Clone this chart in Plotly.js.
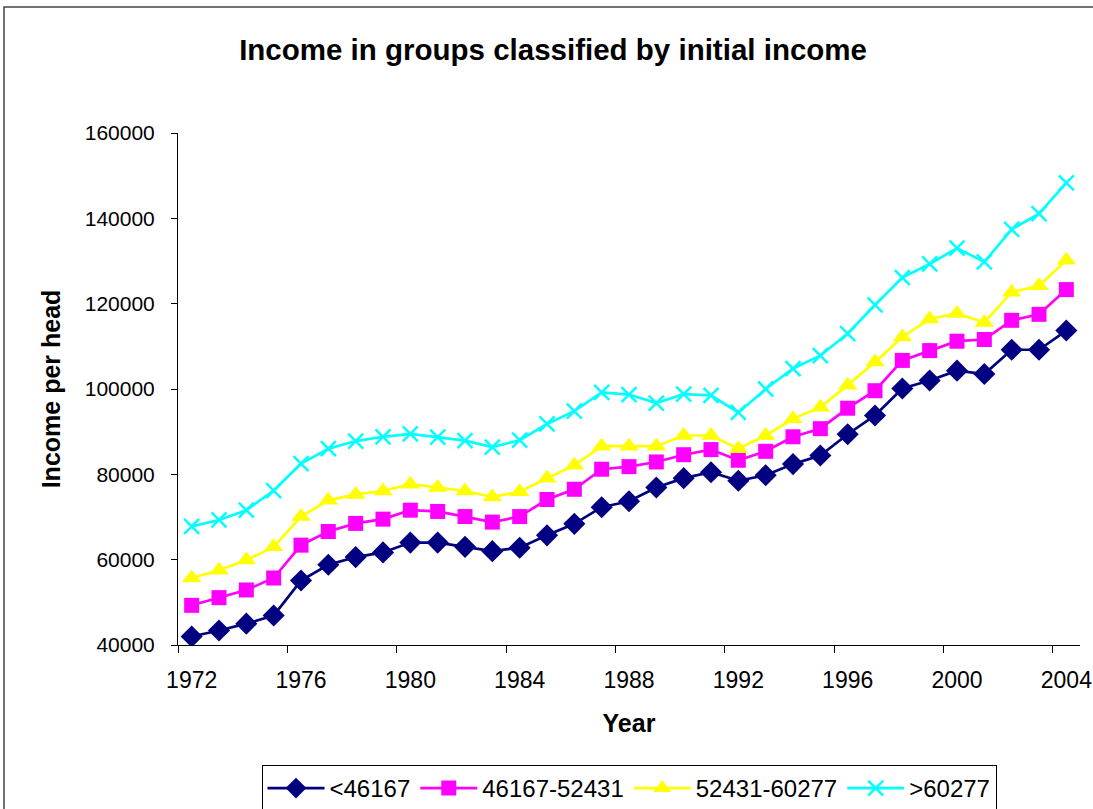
<!DOCTYPE html>
<html>
<head>
<meta charset="utf-8">
<script src="https://cdn.plot.ly/plotly-3.0.1.min.js"></script>
<style>
  html, body { margin: 0; padding: 0; background: #fff; }
  #chart { width: 1093px; height: 809px; }
</style>
</head>
<body>
<div id="chart"></div>
<script>
// Income per head by year for four groups, classified by initial income
const years = [1972, 1973, 1974, 1975, 1976, 1977, 1978, 1979, 1980, 1981, 1982,
               1983, 1984, 1985, 1986, 1987, 1988, 1989, 1990, 1991, 1992, 1993,
               1994, 1995, 1996, 1997, 1998, 1999, 2000, 2001, 2002, 2003, 2004];

const groupNames = ['<46167', '46167-52431', '52431-60277', '>60277'];

const incomeLow = [42000, 43400, 45000, 46900, 55100, 58800, 60600, 61700, 64000, 64000, 63000,
                   62000, 62800, 65700, 68400, 72300, 73700, 76900, 79100, 80500, 78500, 79800,
                   82400, 84400, 89400, 93800, 100100, 102000, 104300, 103500, 109200, 109200, 113700];

const incomeLowMid = [49300, 51100, 52900, 55700, 63400, 66600, 68500, 69500, 71600, 71300, 70100,
                      68800, 70100, 74100, 76500, 81200, 81800, 82900, 84600, 85800, 83300, 85400,
                      88800, 90700, 95500, 99600, 106700, 109000, 111200, 111600, 116100, 117500, 123300];

const incomeHighMid = [55700, 57500, 59900, 63000, 70100, 73900, 75300, 76100, 77700, 76900, 76100,
                       74700, 75900, 79100, 82100, 86600, 86600, 86600, 89100, 89100, 86000, 89100,
                       93000, 95700, 100900, 106300, 112200, 116400, 117700, 115600, 122700, 124200, 130200];

const incomeHigh = [67800, 69300, 71600, 76200, 82500, 86000, 87800, 88800, 89500, 88700, 87900,
                    86400, 88000, 91800, 94800, 99200, 98700, 96700, 98800, 98500, 94500, 100000,
                    104800, 107800, 113000, 119700, 126100, 129300, 133000, 129800, 137400, 141100, 148300];

const yearLabels = [1972, 1976, 1980, 1984, 1988, 1992, 1996, 2000, 2004];

const seriesStyles = [
  { color: '#000080', symbol: 'diamond', size: 17, lineWidth: 0 },
  { color: '#FF00FF', symbol: 'square', size: 15, lineWidth: 0 },
  { color: '#FFFF00', symbol: 'triangle-up', size: 17, lineWidth: 0 },
  { color: '#00FFFF', symbol: 'x-thin-open', size: 15, lineWidth: 2.5 }
];

const seriesValues = [incomeLow, incomeLowMid, incomeHighMid, incomeHigh];

const traces = seriesValues.map((vals, i) => ({
  type: 'scatter',
  mode: 'lines+markers',
  name: groupNames[i],
  x: years,
  y: vals,
  line: { color: seriesStyles[i].color, width: 2.7 },
  marker: {
    color: seriesStyles[i].color,
    symbol: seriesStyles[i].symbol,
    size: seriesStyles[i].size,
    line: { color: seriesStyles[i].color, width: seriesStyles[i].lineWidth }
  }
}));

// tick marks sit between categories, labels sit on the categories
const boundaryTicks = yearLabels.map(y => y - 0.5);

const font = 'Arial, "Liberation Sans", sans-serif';

const layout = {
  width: 1093,
  height: 809,
  margin: { l: 178, r: 13, t: 133, b: 164 },
  paper_bgcolor: '#fff',
  plot_bgcolor: '#fff',
  font: { family: font, color: '#000', size: 23 },
  title: {
    text: '<b>Income in groups classified by initial income</b>',
    font: { family: font, size: 29.5, color: '#000' },
    x: 0.506, xanchor: 'center',
    y: 0.938, yanchor: 'middle'
  },
  xaxis: {
    range: [1971.5, 2004.5],
    tickmode: 'array',
    tickvals: yearLabels,
    ticks: '',
    ticklabelstandoff: 14,
    showgrid: false,
    zeroline: false,
    showline: true,
    linecolor: '#000',
    linewidth: 1,
    tickfont: { family: font, size: 23 },
    minor: {
      tickmode: 'array',
      tickvals: boundaryTicks,
      ticks: 'outside',
      ticklen: 7,
      tickcolor: '#000',
      tickwidth: 1,
      showgrid: false
    },
    title: {
      text: '<b>Year</b>',
      font: { family: font, size: 25 },
      standoff: 22
    },
    fixedrange: true
  },
  yaxis: {
    range: [40000, 160000],
    tickmode: 'linear',
    tick0: 40000,
    dtick: 20000,
    ticks: 'outside',
    ticklen: 6,
    tickcolor: '#000',
    ticklabelstandoff: 12,
    showgrid: false,
    zeroline: false,
    showline: true,
    linecolor: '#000',
    linewidth: 1,
    tickformat: 'd',
    tickfont: { family: font, size: 21 },
    title: {
      text: '<b>Income per head</b>',
      font: { family: font, size: 25 },
      standoff: 16
    },
    fixedrange: true
  },
  showlegend: true,
  legend: {
    orientation: 'h',
    x: 0.5, xanchor: 'center',
    xref: 'paper',
    y: (809 - 765) / 809, yanchor: 'top',
    yref: 'container',
    bordercolor: '#000',
    borderwidth: 1,
    bgcolor: '#fff',
    font: { family: font, size: 24 },
    itemwidth: 57
  },
  shapes: [
    {
      type: 'rect', xref: 'paper', yref: 'paper',
      x0: (4 - 178) / 902, x1: (1100 - 178) / 902,
      y0: (645 - 815) / 512, y1: (645 - 7) / 512,
      line: { color: '#444', width: 1.5 },
      fillcolor: 'rgba(0,0,0,0)',
      layer: 'below'
    }
  ]
};

Plotly.newPlot('chart', traces, layout, { displayModeBar: false, staticPlot: true });
</script>
</body>
</html>
